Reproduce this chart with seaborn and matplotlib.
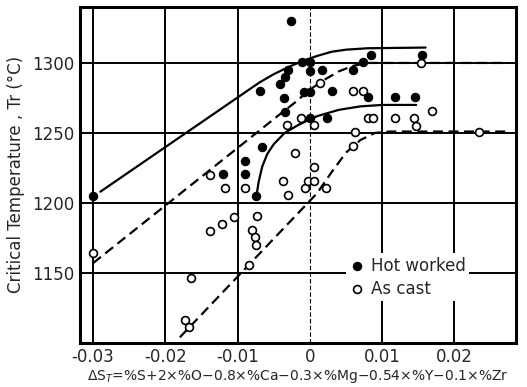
import matplotlib
matplotlib.use("Agg")
import matplotlib.pyplot as plt
import seaborn as sns

# Hot worked specimens (filled circles)
hot_x = [-0.0300, -0.0026, -0.0011, 0.0000, -0.0030, -0.0035, 0.0000, 0.0017,
         -0.0069, -0.0041, -0.0036, -0.0008, 0.0000, 0.0030, 0.0060, 0.0074,
         0.0085, 0.0155, 0.0081, 0.0117, 0.0145, -0.0034, 0.0000, 0.0023,
         -0.0066, -0.0090, -0.0090, -0.0120, -0.0074]
hot_y = [1205, 1330, 1301, 1301, 1295, 1290, 1294, 1295,
         1280, 1285, 1275, 1279, 1279, 1280, 1295, 1301,
         1306, 1306, 1276, 1276, 1276, 1265, 1261, 1261,
         1240, 1230, 1221, 1221, 1205]

# As cast specimens (open circles)
cast_x = [-0.0300, -0.0138, -0.0118, -0.0090, -0.0138, -0.0121, -0.0105, -0.0073,
          -0.0080, -0.0076, -0.0074, -0.0085, -0.0165, -0.0173, -0.0167, -0.0032,
          -0.0012, 0.0005, -0.0020, 0.0005, -0.0037, -0.0030, -0.0007, -0.0002,
          0.0005, 0.0022, 0.0014, 0.0060, 0.0073, 0.0153, 0.0080, 0.0087,
          0.0118, 0.0144, 0.0147, 0.0169, 0.0063, 0.0060, 0.0234]
cast_y = [1164, 1220, 1211, 1211, 1180, 1185, 1190, 1191,
          1181, 1176, 1170, 1156, 1146, 1116, 1111, 1256,
          1261, 1256, 1236, 1226, 1216, 1206, 1211, 1216,
          1216, 1211, 1286, 1280, 1280, 1300, 1261, 1261,
          1261, 1261, 1255, 1266, 1251, 1241, 1251]

# hand-drawn trend curves
hot_upper_x = [-0.029, -0.007, -0.005, -0.003, -0.001, 0.001, 0.003, 0.005,
               0.008, 0.016]
hot_upper_y = [1208, 1286, 1292, 1297, 1301.5, 1305, 1308, 1309.5, 1310.5, 1311]
hot_lower_x = [-0.0074, -0.0071, -0.0066, -0.0059, -0.005, -0.0035, -0.0015, 0.001,
               0.004, 0.007, 0.010, 0.0147]
hot_lower_y = [1205, 1215, 1226, 1235, 1242, 1250, 1256, 1262, 1266.5, 1269, 1270, 1270]
cast_upper_x = [-0.030, -0.004, -0.002, 0.000, 0.002, 0.004, 0.006, 0.008, 0.0275]
cast_upper_y = [1157, 1264, 1272, 1281, 1288, 1294, 1298, 1300, 1300]
cast_lower_x = [-0.018, 0.001, 0.003, 0.005, 0.007, 0.009, 0.011, 0.0275]
cast_lower_y = [1104, 1207, 1222, 1236, 1245, 1250, 1251, 1251]

x_ticks = [-0.03, -0.02, -0.01, 0, 0.01, 0.02]
x_labels = ["-0.03", "-0.02", "-0.01", "0", "0.01", "0.02"]
y_ticks = [1150, 1200, 1250, 1300]

sns.set_style("white")
plt.rcParams["font.family"] = ["DejaVu Sans"]

fig = plt.figure(figsize=(5.27, 3.87), dpi=100)
ax = fig.add_axes([0.152, 0.114, 0.827, 0.868])

ax.set_xlim(-0.0318, 0.0285)
ax.set_ylim(1100, 1340)

# grid (the zero line is a light dashed rule in the original)
for xv in x_ticks:
    if xv == 0:
        ax.axvline(xv, color="black", lw=0.8, ls=(0, (4, 2)), zorder=0)
    else:
        ax.axvline(xv, color="black", lw=1.4, zorder=0)
for yv in y_ticks:
    ax.axhline(yv, color="black", lw=1.4, zorder=0)

solid = dict(color="black", lw=1.6, sort=False, estimator=None, ax=ax, legend=False)
dashed = dict(solid, linestyle=(0, (4.5, 2.5)))
sns.lineplot(x=hot_upper_x, y=hot_upper_y, **solid)
sns.lineplot(x=hot_lower_x, y=hot_lower_y, **solid)
sns.lineplot(x=cast_upper_x, y=cast_upper_y, **dashed)
sns.lineplot(x=cast_lower_x, y=cast_lower_y, **dashed)

sns.scatterplot(x=hot_x, y=hot_y, color="black", s=36, edgecolor="black",
                linewidth=0.8, label="Hot worked", ax=ax, zorder=3)
sns.scatterplot(x=cast_x, y=cast_y, facecolor="white", s=32, edgecolor="black",
                linewidth=1.2, label="As cast", ax=ax, zorder=3)

ax.set_xticks(x_ticks)
ax.set_xticklabels(x_labels)
ax.set_yticks(y_ticks)
ax.tick_params(axis="both", labelsize=12, length=0, pad=4)
for s in ax.spines.values():
    s.set_linewidth(2.2)
    s.set_color("black")

ax.set_xlabel(r"$\Delta$S$_T$=%S+2×%O−0.8×%Ca−0.3×%Mg−0.54×%Y−0.1×%Zr",
              fontsize=10, labelpad=1)
ax.set_ylabel("Critical Temperature , Tr (°C)", fontsize=12, labelpad=5)

leg = ax.legend(loc="lower left", bbox_to_anchor=(0.59, 0.1), fontsize=12,
                frameon=True, facecolor="white", edgecolor="none", framealpha=1,
                handletextpad=0.3, borderpad=0.2, labelspacing=0.3, handlelength=1.0)
leg.set_zorder(5)

plt.savefig("out.png", dpi=100)
